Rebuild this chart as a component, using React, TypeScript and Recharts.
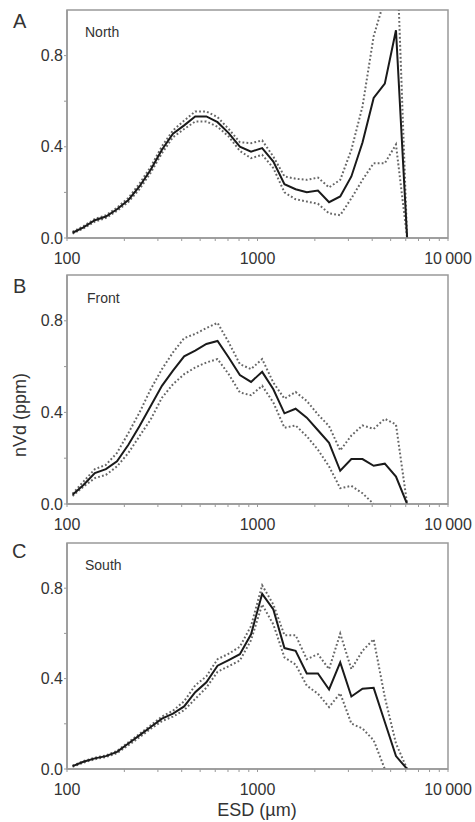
import { LineChart, Line, XAxis, YAxis, ReferenceArea } from 'recharts';

const esd = [107, 122, 140, 160, 183, 210, 240, 275, 315, 360, 412, 471, 539, 617, 706, 808, 925, 1058, 1211, 1385, 1585, 1814, 2076, 2375, 2718, 3110, 3558, 4072, 4659, 5332, 6101];

const northMean = [0.023, 0.047, 0.078, 0.094, 0.126, 0.167, 0.226, 0.299, 0.387, 0.457, 0.494, 0.533, 0.533, 0.508, 0.46, 0.401, 0.379, 0.394, 0.335, 0.236, 0.214, 0.201, 0.208, 0.157, 0.182, 0.27, 0.419, 0.614, 0.677, 0.911, 0];
const northUpper = [0.027, 0.052, 0.084, 0.1, 0.133, 0.176, 0.238, 0.312, 0.402, 0.472, 0.515, 0.555, 0.555, 0.53, 0.478, 0.42, 0.416, 0.428, 0.357, 0.27, 0.26, 0.255, 0.265, 0.222, 0.255, 0.387, 0.577, 0.885, 1.05, 1.35, 0];
const northLower = [0.019, 0.042, 0.072, 0.088, 0.119, 0.158, 0.214, 0.286, 0.372, 0.442, 0.478, 0.511, 0.511, 0.488, 0.445, 0.382, 0.35, 0.365, 0.307, 0.2, 0.17, 0.16, 0.15, 0.108, 0.1, 0.174, 0.255, 0.328, 0.328, 0.41, 0];

const frontMean = [0.04, 0.083, 0.135, 0.152, 0.186, 0.259, 0.34, 0.428, 0.516, 0.582, 0.645, 0.67, 0.699, 0.712, 0.64, 0.563, 0.533, 0.577, 0.501, 0.396, 0.416, 0.377, 0.322, 0.267, 0.145, 0.196, 0.196, 0.167, 0.176, 0.12, 0];
const frontUpper = [0.045, 0.098, 0.152, 0.171, 0.223, 0.31, 0.399, 0.501, 0.589, 0.662, 0.724, 0.743, 0.768, 0.791, 0.706, 0.611, 0.589, 0.633, 0.53, 0.46, 0.489, 0.45, 0.391, 0.34, 0.234, 0.299, 0.343, 0.328, 0.372, 0.347, 0];
const frontLower = [0.035, 0.076, 0.113, 0.127, 0.164, 0.223, 0.296, 0.369, 0.464, 0.523, 0.567, 0.596, 0.618, 0.633, 0.567, 0.487, 0.475, 0.516, 0.443, 0.333, 0.343, 0.296, 0.237, 0.164, 0.069, 0.079, 0.047, 0, null, null, null];

const southMean = [0.013, 0.032, 0.047, 0.057, 0.076, 0.113, 0.149, 0.186, 0.223, 0.245, 0.277, 0.34, 0.384, 0.457, 0.482, 0.508, 0.596, 0.775, 0.706, 0.535, 0.523, 0.423, 0.423, 0.352, 0.472, 0.321, 0.355, 0.359, 0.208, 0.057, 0];
const southUpper = [0.015, 0.035, 0.05, 0.06, 0.08, 0.118, 0.155, 0.193, 0.232, 0.258, 0.3, 0.37, 0.41, 0.486, 0.51, 0.541, 0.633, 0.813, 0.728, 0.592, 0.592, 0.486, 0.508, 0.442, 0.599, 0.442, 0.523, 0.574, 0.318, 0.113, 0];
const southLower = [0.01, 0.028, 0.043, 0.053, 0.07, 0.105, 0.14, 0.178, 0.212, 0.232, 0.26, 0.31, 0.36, 0.43, 0.455, 0.48, 0.57, 0.728, 0.64, 0.494, 0.462, 0.369, 0.333, 0.274, 0.335, 0.201, 0.179, 0.127, 0, null, null];

const xTicks = [100, 200, 300, 400, 500, 600, 700, 800, 900, 1000, 2000, 3000, 4000, 5000, 6000, 7000, 8000, 9000, 10000];
const xTickLabels: Record<number, string> = { 100: '100', 1000: '1000', 10000: '10\u2009000' };
const yTicks = [0, 0.2, 0.4, 0.6, 0.8];
const yTickLabels: Record<number, string> = { 0: '0.0', 0.4: '0.4', 0.8: '0.8' };

const FONT = '"Liberation Sans", Arial, sans-serif';
const AXIS = '#999';
const TEXT = '#333';

function Panel({ top, height, bottom, mean, upper, lower }: {
    top: number; height: number; bottom: number;
    mean: (number | null)[]; upper: (number | null)[]; lower: (number | null)[];
}) {
    const data = esd.map((x, i) => ({ x, mean: mean[i], upper: upper[i], lower: lower[i] }));
    return (
        <div style={{ position: 'absolute', left: 0, top }}>
            <LineChart width={475} height={height} data={data}
                margin={{ top: 10, right: 27, bottom, left: 0 }}>
                <XAxis dataKey="x" type="number" scale="log" domain={[100, 10000]} ticks={xTicks}
                    allowDataOverflow height={30} interval={0}
                    tickFormatter={(v) => xTickLabels[v] ?? ''}
                    tickSize={3} tickMargin={12}
                    axisLine={{ stroke: AXIS, strokeWidth: 1.5 }} tickLine={{ stroke: AXIS }}
                    tick={{ fontSize: 16, fill: TEXT, fontFamily: FONT }} />
                <YAxis type="number" domain={[0, 1]} ticks={yTicks} allowDataOverflow width={67} interval={0}
                    tickFormatter={(v) => yTickLabels[v] ?? ''}
                    tickSize={3} tickMargin={1}
                    axisLine={{ stroke: AXIS, strokeWidth: 1.5 }} tickLine={{ stroke: AXIS }}
                    tick={{ fontSize: 16, fill: TEXT, fontFamily: FONT }} />
                <ReferenceArea x1={100} x2={10000} y1={0} y2={1} fill="none" stroke={AXIS} strokeWidth={1.5} />
                <Line type="linear" dataKey="upper" stroke="#666" strokeWidth={2} strokeDasharray="1.8 2.2"
                    dot={false} isAnimationActive={false} />
                <Line type="linear" dataKey="lower" stroke="#666" strokeWidth={2} strokeDasharray="1.8 2.2"
                    dot={false} isAnimationActive={false} />
                <Line type="linear" dataKey="mean" stroke="#1a1a1a" strokeWidth={2}
                    dot={false} isAnimationActive={false} />
            </LineChart>
        </div>
    );
}

export default function App() {
    return (
        <div style={{ position: 'absolute', left: 0, top: 0, width: 475, height: 822, background: '#fff' }}>
            <Panel top={0} height={270} bottom={2} mean={northMean} upper={northUpper} lower={northLower} />
            <Panel top={265} height={270} bottom={1} mean={frontMean} upper={frontUpper} lower={frontLower} />
            <Panel top={533} height={289} bottom={23} mean={southMean} upper={southUpper} lower={southLower} />
            <svg width={475} height={822} style={{ position: 'absolute', left: 0, top: 0, pointerEvents: 'none' }}
                fontFamily={FONT} fill={TEXT}>
                <text x={13} y={28} fontSize={20}>A</text>
                <text x={13} y={293} fontSize={20}>B</text>
                <text x={12} y={558} fontSize={20}>C</text>
                <text x={85} y={37} fontSize={14}>North</text>
                <text x={87} y={303} fontSize={14}>Front</text>
                <text x={85} y={570} fontSize={14}>South</text>
                <text x={0} y={0} fontSize={18} textAnchor="middle"
                    transform="translate(26 415) rotate(-90)">nVd (ppm)</text>
                <text x={257} y={816} fontSize={18} textAnchor="middle">ESD (µm)</text>
            </svg>
        </div>
    );
}
